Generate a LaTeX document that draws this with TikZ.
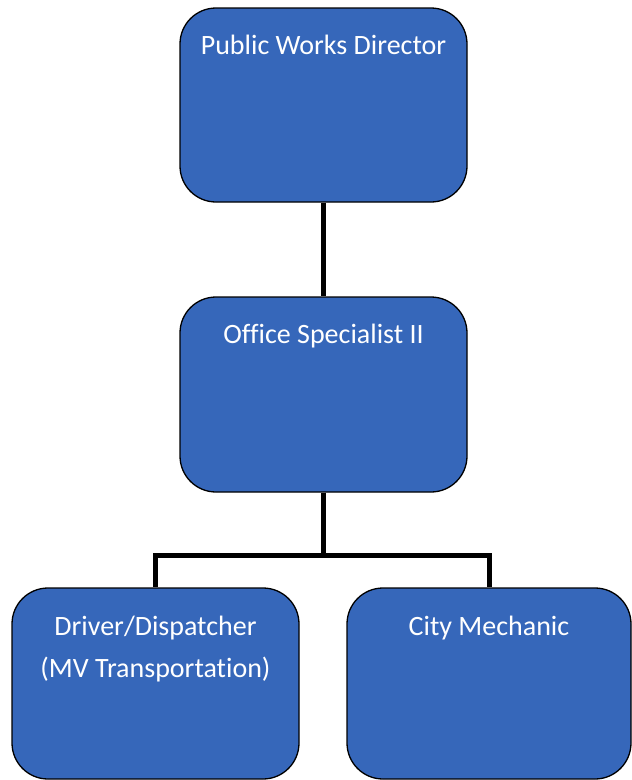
\documentclass[tikz,border=0pt]{standalone}
\usepackage{fontspec}
\setmainfont{Carlito}[Ligatures=NoCommon]
\usepackage{xcolor}
\definecolor{orgBlue}{HTML}{3667BA}
\usetikzlibrary{positioning,calc}
\tikzset{
    posbox/.style={
        draw=black,
        fill=orgBlue,
        rectangle,
        rounded corners=36pt,
        line width=1.3pt,
        inner sep=0pt
    },
    postext/.style={
        anchor=north,
        text=white,
        align=center,
        inner sep=0pt,
        font=\fontsize{28}{42}\selectfont
    },
    link/.style={
        line width=5pt,
        color=black
    }
}
\begin{document}
\begin{tikzpicture}[x=1pt,y=-1pt]
    \useasboundingbox (0,0) rectangle (632,780);

    % Boxes
    \node[posbox, minimum width=287pt, minimum height=194pt] (director) at (323.5,105) {};
    \node[posbox, minimum width=287pt, minimum height=195pt] (office) at (323.5,394.5) {};
    \node[posbox, minimum width=287pt, minimum height=191pt] (driver) at (155.5,683.5) {};
    \node[posbox, minimum width=284pt, minimum height=191pt] (mechanic) at (489,683.5) {};

    % Titles
    \node[postext, below=28pt of director.north] (directorText) {Public Works Director};
    \node[postext, below=28pt of office.north] (officeText) {Office Specialist II};
    \node[postext, below=28pt of driver.north] (driverText) {Driver/Dispatcher\\(MV Transportation)};
    \node[postext, below=28pt of mechanic.north] (mechanicText) {City Mechanic};

    % Connections
    \draw[link] (director.south) -- (office.north);
    \draw[link] (office.south) -- ++(0,63) -| (driver.north);
    \draw[link] (office.south) -- ++(0,63) -| (mechanic.north);
\end{tikzpicture}
\end{document}
